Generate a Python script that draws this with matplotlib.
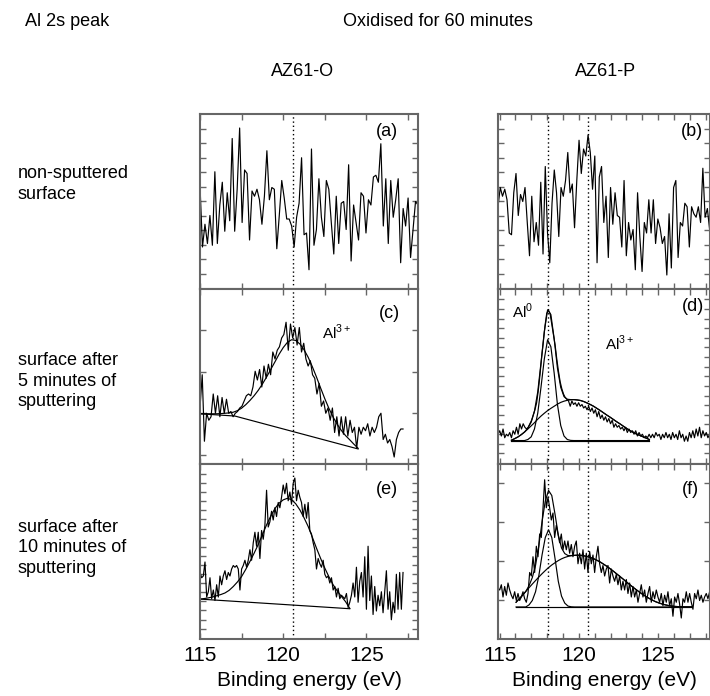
# Al 2s XPS peak, AZ61-O vs AZ61-P, oxidised 60 min
import numpy as np
import matplotlib
matplotlib.use('Agg')
import matplotlib.pyplot as plt
from matplotlib.ticker import MultipleLocator

plt.rcParams['font.family'] = ['Liberation Sans', 'DejaVu Sans']
plt.rcParams['mathtext.fontset'] = 'custom'
plt.rcParams['mathtext.rm'] = 'Liberation Sans'

# ---- data (intensity in arbitrary units, 0-100 of each panel) ----
# (a) AZ61-O, non-sputtered
a_range = (115.0, 128.1)
a_int = [59, 24, 37, 26, 42, 25, 67, 26, 48, 61, 33, 55, 39, 86, 33, 57, 92, 38, 68, 66,
         28, 56, 53, 57, 51, 37, 53, 79, 51, 58, 57, 23, 42, 62, 52, 40, 40, 36, 24, 41,
         49, 75, 31, 32, 11, 80, 25, 34, 63, 41, 30, 62, 57, 38, 20, 53, 26, 49, 50, 34,
         71, 16, 48, 38, 28, 55, 53, 32, 51, 48, 64, 65, 61, 83, 36, 63, 26, 62, 41, 51,
         63, 15, 46, 36, 52, 18, 34, 50, 48]

# (b) AZ61-P, non-sputtered
b_range = (114.9, 128.25)
b_int = [47, 58, 53, 57, 51, 32, 31, 55, 66, 42, 54, 50, 58, 38, 19, 53, 27, 38, 25, 61,
         20, 70, 32, 15, 49, 68, 55, 30, 58, 53, 62, 78, 55, 60, 35, 62, 85, 66, 80, 76,
         88, 78, 57, 76, 15, 64, 70, 38, 53, 18, 58, 37, 55, 42, 41, 24, 62, 19, 38, 28,
         34, 11, 55, 30, 10, 38, 32, 51, 32, 51, 26, 40, 35, 26, 30, 8, 43, 12, 58, 62,
         18, 38, 36, 49, 47, 24, 47, 43, 41, 47, 38, 69, 41, 46, 34]

# (c) AZ61-O, 5 min sputtering
c_range = (115.0, 127.2)
c_int = [32, 51, 13, 29, 25, 27, 40, 29, 39, 27, 38, 29, 37, 29, 30, 27, 29, 30, 32, 33,
         36, 39, 40, 39, 44, 53, 48, 54, 44, 56, 49, 57, 51, 64, 60, 65, 67, 72, 74, 81,
         65, 80, 72, 78, 68, 78, 64, 69, 60, 56, 59, 51, 49, 40, 46, 33, 36, 29, 32, 25,
         32, 18, 27, 16, 27, 17, 27, 16, 25, 18, 21, 9, 21, 17, 21, 19, 23, 16, 21, 18,
         21, 27, 29, 14, 17, 12, 14, 10, 4, 14, 18, 20, 20]
c_fit_E = np.arange(115.0, 124.51, 0.25)
c_fit = [28.7, 28.7, 28.7, 28.7, 28.7, 28.8, 29.0, 29.2, 29.6, 30.5, 31.9, 33.9, 36.3,
         39.0, 42.1, 45.7, 49.7, 54.0, 58.3, 62.7, 66.5, 69.5, 71.0, 70.6, 68.6, 65.3,
         61.0, 55.6, 49.7, 43.4, 37.3, 31.7, 26.8, 22.6, 19.1, 16.2, 13.8, 11.3, 9.0]
c_bg_E = [115.0, 117.1, 124.5]
c_bg = [28.7, 27.4, 8.6]

# (d) AZ61-P, 5 min sputtering
d_range = (114.9, 128.25)
d_int = [17, 19, 16, 20, 15, 17, 16, 18, 15, 19, 17, 21, 17, 23, 20, 23, 21, 20, 21, 23,
         25, 28, 31, 35, 42, 51, 61, 70, 79, 86, 88, 86, 80, 74, 68, 60, 53, 47, 43, 40,
         38, 37, 36, 33, 36, 34, 35, 33, 35, 33, 34, 32, 33, 31, 33, 30, 32, 29, 31, 27,
         30, 26, 28, 25, 27, 24, 26, 23, 25, 21, 23, 21, 22, 20, 21, 19, 21, 18, 20, 18,
         19, 17, 19, 16, 18, 16, 17, 15, 16, 15, 17, 15, 17, 15, 18, 16, 17, 14, 17, 15,
         18, 15, 17, 14, 18, 15, 17, 14, 19, 15, 17, 13, 16, 13, 18, 15, 19, 15, 20, 16,
         21, 15, 19, 16, 18, 15, 17]
d_fit_E = np.linspace(115.75, 124.45, 43)
d_bg = 13.4
d_al0 = [13.4] * 5 + [14.0, 15.5, 20, 29, 44, 60, 71, 67, 52, 34, 22, 16, 14, 13.5] + [13.4] * 24
d_al3 = [13.6, 14.5, 15.5, 16.8, 18.3, 20.0, 21.8, 23.6, 25.6, 27.4, 29.0, 30.5, 31.8,
         33.0, 34.2, 35.2, 35.9, 36.4, 36.7, 36.8, 36.6, 36.3, 35.7, 34.9, 34.0, 33.0,
         31.8, 30.6, 29.3, 28.0, 26.8, 25.5, 24.2, 23.0, 21.7, 20.4, 19.2, 18.2, 17.2,
         16.4, 15.6, 14.8, 14.0]

# (e) AZ61-O, 10 min sputtering
e_range = (115.0, 127.2)
e_int = [38, 35, 36, 44, 24, 27, 35, 23, 28, 22, 31, 24, 36, 31, 36, 39, 34, 38, 36, 40,
         42, 41, 42, 40, 28, 40, 42, 45, 41, 45, 51, 45, 55, 61, 53, 61, 46, 62, 57, 65,
         85, 64, 67, 73, 68, 75, 70, 78, 75, 81, 88, 83, 89, 79, 84, 77, 89, 92, 79, 85,
         81, 78, 70, 77, 69, 78, 62, 60, 55, 51, 40, 46, 43, 41, 45, 37, 35, 36, 32, 35,
         28, 30, 24, 29, 23, 25, 24, 23, 26, 18, 21, 25, 32, 24, 41, 21, 33, 38, 24, 47,
         17, 53, 22, 36, 14, 30, 16, 25, 19, 27, 15, 27, 39, 17, 27, 11, 21, 15, 37, 17,
         38, 17, 38]
e_fit_E = np.arange(115.0, 124.01, 0.25)
e_fit = [22.8, 23.1, 23.5, 24.0, 24.7, 25.4, 26.3, 27.8, 30.0, 32.6, 35.7, 39.8, 44.3,
         49.0, 54.0, 59.6, 65.2, 70.2, 74.5, 77.6, 79.5, 80.4, 79.6, 77.3, 73.8, 69.3,
         64.3, 58.2, 51.9, 46.0, 40.5, 35.5, 31.0, 27.4, 24.3, 21.3, 17.5]
e_bg_E = [115.0, 124.0]
e_bg = [22.8, 17.3]

# (f) AZ61-P, 10 min sputtering
f_range = (114.9, 128.25)
f_int = [29, 28, 31, 24, 30, 25, 32, 28, 25, 23, 27, 22, 26, 22, 24, 27, 23, 21, 26, 38,
         36, 47, 38, 53, 47, 60, 58, 74, 91, 75, 81, 75, 68, 72, 58, 65, 60, 55, 60, 51,
         56, 51, 56, 49, 54, 47, 53, 56, 43, 49, 43, 51, 40, 49, 38, 50, 43, 48, 38, 47,
         53, 43, 38, 42, 36, 40, 42, 32, 40, 36, 33, 37, 31, 36, 28, 33, 28, 34, 26, 32,
         24, 30, 24, 28, 21, 26, 31, 24, 28, 21, 26, 30, 21, 27, 23, 28, 24, 21, 26, 19,
         25, 21, 27, 19, 23, 13, 24, 21, 26, 20, 12, 23, 21, 27, 21, 26, 21, 17, 26, 23,
         28, 22, 25, 21, 24, 26, 23, 27]
f_fit_E = np.linspace(116.04, 127.1, 55)
f_bg = 18.3
f_al0 = [18.3] * 4 + [19.5, 22, 27, 36, 48, 58, 62.4, 58, 46, 33, 24.5, 20.5, 18.8, 18.4] + [18.3] * 37
f_al3 = [21.0, 23.0, 25.0, 27.2, 29.3, 31.4, 33.4, 35.4, 37.3, 39.1, 40.8, 42.3, 43.6,
         44.8, 45.8, 46.6, 47.2, 47.6, 47.8, 47.9, 47.8, 47.5, 47.1, 46.5, 45.8, 44.9,
         43.9, 42.7, 41.5, 40.1, 38.7, 37.2, 35.7, 34.2, 32.6, 31.1, 29.6, 28.2, 26.8,
         25.5, 24.3, 23.2, 22.2, 21.3, 20.6, 20.0, 19.5, 19.1, 18.8, 18.6, 18.5, 18.4,
         18.3, 18.3, 18.3]

al3_pos = 120.6   # Al3+ reference line
al0_pos = 118.05  # Al0 reference line

# ---- figure ----
W, H = 710, 696
fig = plt.figure(figsize=(W / 100, H / 100), dpi=100)

def box(x0, y0, x1, y1):
    return [x0 / W, 1 - y1 / H, (x1 - x0) / W, (y1 - y0) / H]

def ftext(x, y, s, **kw):
    fig.text(x / W, 1 - y / H, s, **kw)

rows = [(114, 289), (289, 464), (464, 639)]
left_x = (200, 418)
right_x = (498, 710.4)
gray = '#666666'

def style(ax, xlim, xminor, yticks, bottom):
    ax.set_xlim(*xlim)
    ax.set_ylim(0, 100)
    ax.xaxis.set_major_locator(MultipleLocator(5))
    ax.xaxis.set_minor_locator(MultipleLocator(xminor))
    ax.set_yticks(yticks)
    ax.tick_params(which='both', direction='in', top=True, right=True, length=4,
                   width=1, color=gray, labelleft=False, labelbottom=bottom,
                   labelsize=15, pad=5)
    for s in ax.spines.values():
        s.set_color(gray)
        s.set_linewidth(1.5)

dots = (0, (1, 2))
yt_ab = np.arange(8.6, 99, 8.3)

axa = fig.add_axes(box(left_x[0], rows[0][0], left_x[1], rows[0][1]))
axc = fig.add_axes(box(left_x[0], rows[1][0], left_x[1], rows[1][1]))
axe = fig.add_axes(box(left_x[0], rows[2][0], left_x[1], rows[2][1]))
axb = fig.add_axes(box(right_x[0], rows[0][0], right_x[1], rows[0][1]))
axd = fig.add_axes(box(right_x[0], rows[1][0], right_x[1], rows[1][1]))
axf = fig.add_axes(box(right_x[0], rows[2][0], right_x[1], rows[2][1]))

style(axa, (115, 128.1), 2.5, yt_ab, False)
style(axc, (115, 128.1), 2.5, np.arange(5.1, 99, 23.8), False)
style(axe, (115, 128.1), 2.5, np.arange(5.9, 99, 5.2), True)
style(axb, (114.9, 128.3), 1, yt_ab, False)
style(axd, (114.9, 128.3), 1, np.arange(6.1, 99, 5.5), False)
style(axf, (114.9, 128.3), 1, np.arange(22.4, 99, 22.3), True)

lw = 0.85
axa.plot(np.linspace(*a_range, len(a_int)), a_int, color='k', lw=lw)
axb.plot(np.linspace(*b_range, len(b_int)), b_int, color='k', lw=lw)

axc.plot(np.linspace(*c_range, len(c_int)), c_int, color='k', lw=lw)
axc.plot(c_fit_E, c_fit, color='k', lw=lw)
axc.plot(c_bg_E, c_bg, color='k', lw=lw)

axe.plot(np.linspace(*e_range, len(e_int)), e_int, color='k', lw=lw)
axe.plot(e_fit_E, e_fit, color='k', lw=lw)
axe.plot(e_bg_E, e_bg, color='k', lw=lw)

# envelope = sum of the two components above the flat background
d_sum = np.array(d_al0) + np.array(d_al3) - d_bg
axd.plot(np.linspace(*d_range, len(d_int)), d_int, color='k', lw=lw)
axd.plot(d_fit_E, d_al0, color='k', lw=lw)
axd.plot(d_fit_E, d_al3, color='k', lw=lw)
axd.plot(d_fit_E, d_sum, color='k', lw=lw)
axd.plot([d_fit_E[0], d_fit_E[-1]], [d_bg, d_bg], color='k', lw=lw)

f_sum = np.array(f_al0) + np.array(f_al3) - f_bg
axf.plot(np.linspace(*f_range, len(f_int)), f_int, color='k', lw=lw)
axf.plot(f_fit_E, f_al0, color='k', lw=lw)
axf.plot(f_fit_E, f_al3, color='k', lw=lw)
axf.plot(f_fit_E, f_sum, color='k', lw=lw)
axf.plot([f_fit_E[0], f_fit_E[-1]], [f_bg, f_bg], color='k', lw=lw)

for ax in (axa, axc, axe):
    ax.axvline(al3_pos, color='k', lw=1, ls=dots)
for ax in (axb, axd, axf):
    ax.axvline(al0_pos, color='k', lw=1, ls=dots)
    ax.axvline(al3_pos, color='k', lw=1, ls=dots)

# ---- texts ----
fs = 13
ftext(25, 22, 'Al 2s peak', ha='left', va='center', fontsize=fs)
ftext(438, 22, 'Oxidised for 60 minutes', ha='center', va='center', fontsize=fs)
ftext(303, 71, 'AZ61-O', ha='center', va='center', fontsize=fs)
ftext(606, 71, 'AZ61-P', ha='center', va='center', fontsize=fs)

ftext(18, 184, 'non-sputtered\nsurface', ha='left', va='center', fontsize=fs, linespacing=1.3)
ftext(18, 381, 'surface after\n5 minutes of\nsputtering', ha='left', va='center',
      fontsize=fs, linespacing=1.3)
ftext(18, 548, 'surface after\n10 minutes of\nsputtering', ha='left', va='center',
      fontsize=fs, linespacing=1.3)

ftext(309, 681, 'Binding energy (eV)', ha='center', va='center', fontsize=15)
ftext(604, 681, 'Binding energy (eV)', ha='center', va='center', fontsize=15)

for x, y, s in [(387, 131, '(a)'), (692, 131, '(b)'), (389, 313, '(c)'),
                (693, 306, '(d)'), (387, 489, '(e)'), (690, 489, '(f)')]:
    ftext(x, y, s, ha='center', va='center', fontsize=fs)

ftext(322, 332, 'Al$^{3+}$', ha='left', va='center', fontsize=11)
ftext(512, 311, 'Al$^{0}$', ha='left', va='center', fontsize=11)
ftext(605, 343, 'Al$^{3+}$', ha='left', va='center', fontsize=11)

fig.savefig('out.png', dpi=100)
